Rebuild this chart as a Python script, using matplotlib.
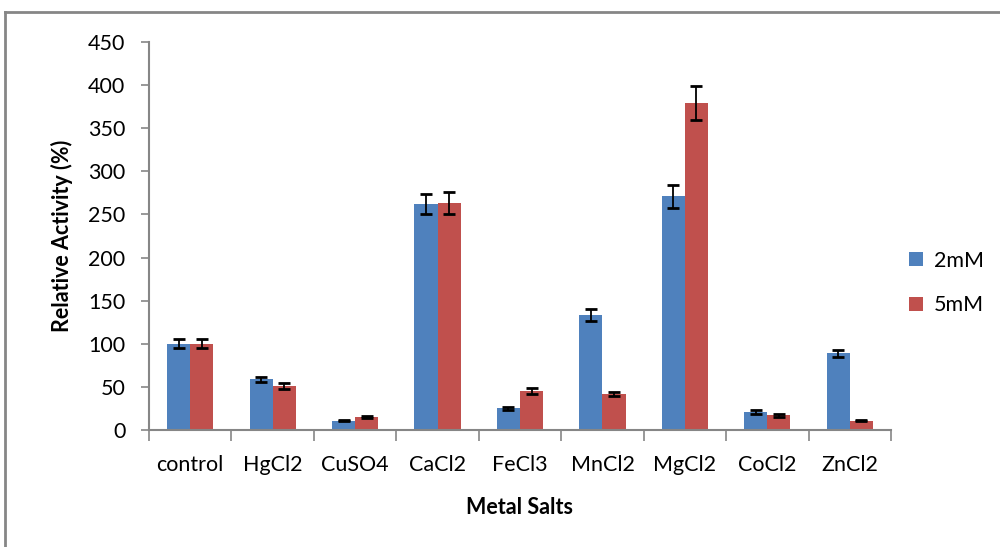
import numpy as np
import matplotlib.pyplot as plt
from matplotlib.lines import Line2D

salts = ['control', 'HgCl2', 'CuSO4', 'CaCl2', 'FeCl3', 'MnCl2', 'MgCl2', 'CoCl2', 'ZnCl2']
mm2 = [100, 59, 11, 262, 25, 133, 271, 21, 89]
mm2_err = [5, 3, 1, 12, 2, 7, 13, 2.5, 4]
mm5 = [100, 51, 15, 263, 45, 42, 379, 17, 11]
mm5_err = [5, 3.5, 1, 13, 3.5, 2.5, 20, 2, 1]

plt.rcParams['font.family'] = ['Lato', 'DejaVu Sans']
gray = '#868686'

fig = plt.figure(figsize=(10, 5.47), dpi=100)
ax = fig.add_axes([0.149, 0.2139, 0.742, 0.7093])

barWidth = 0.28
x = np.arange(len(salts))
ax.bar(x - barWidth / 2, mm2, width=barWidth, color='#4F81BD', label='2mM', zorder=2)
ax.bar(x + barWidth / 2, mm5, width=barWidth, color='#C0504D', label='5mM', zorder=2)
ax.errorbar(x - barWidth / 2, mm2, yerr=mm2_err, fmt='none', ecolor='black',
            elinewidth=1.3, capsize=4.5, capthick=2, zorder=3)
ax.errorbar(x + barWidth / 2, mm5, yerr=mm5_err, fmt='none', ecolor='black',
            elinewidth=1.3, capsize=4.5, capthick=2, zorder=3)

ax.set_xlim(-0.5, len(salts) - 0.5)
ax.set_ylim(0, 450)
ax.set_yticks(np.arange(0, 451, 50))
ax.tick_params(axis='y', labelsize=15.5, length=6, color=gray, width=1.2, pad=11)

ax.set_xticks(x)
ax.set_xticklabels(salts, fontsize=15.5)
ax.tick_params(axis='x', length=0, pad=18)
ax.set_xticks(np.arange(-0.5, len(salts), 1), minor=True)
ax.tick_params(axis='x', which='minor', length=8, color=gray, width=1.2)

for s in ['top', 'right']:
    ax.spines[s].set_visible(False)
for s in ['left', 'bottom']:
    ax.spines[s].set_color(gray)
    ax.spines[s].set_linewidth(1.5)

ax.set_ylabel('Relative Activity (%)', fontsize=15.5, fontweight='bold', labelpad=11)
ax.set_xlabel('Metal Salts', fontsize=15.5, fontweight='bold', labelpad=16)

ax.legend(loc='center left', bbox_to_anchor=(0.909, 1 - 283 / 547),
          bbox_transform=fig.transFigure, frameon=False, fontsize=15.5,
          handlelength=0.65, handleheight=0.65, labelspacing=1.15,
          handletextpad=0.5, borderpad=0, borderaxespad=0)

# outer chart border (left and top visible)
fig.add_artist(Line2D([0.005, 0.005], [0, 1 - 12 / 547], color=gray, lw=2))
fig.add_artist(Line2D([0.005, 1], [1 - 12 / 547, 1 - 12 / 547], color=gray, lw=2))

fig.savefig('out.png', dpi=100)
